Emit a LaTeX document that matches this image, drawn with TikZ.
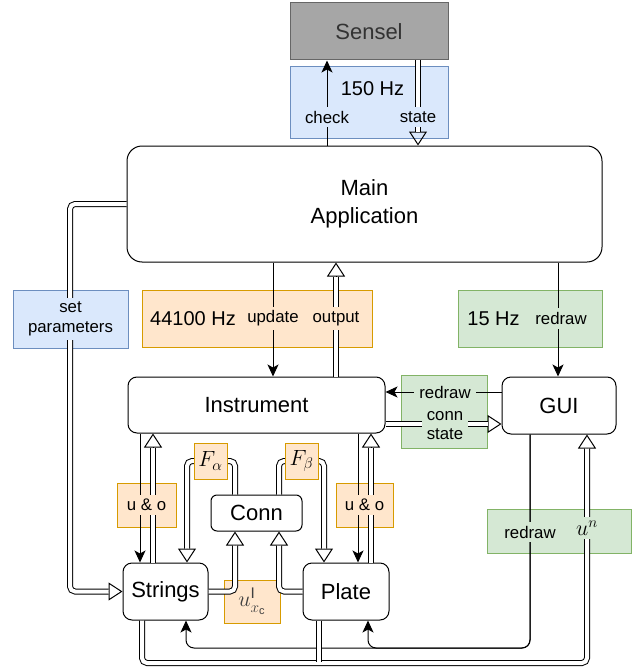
\RequirePackage{fix-cm}
\documentclass[tikz,border=0pt]{standalone}
\usepackage{fontspec}
\setmainfont{Liberation Sans}
\usetikzlibrary{arrows.meta}

\definecolor{blueF}{HTML}{DAE8FC}
\definecolor{blueS}{HTML}{6C8EBF}
\definecolor{orgF}{HTML}{FFE6CC}
\definecolor{orgS}{HTML}{D79B00}
\definecolor{grnF}{HTML}{D5E8D4}
\definecolor{grnS}{HTML}{82B366}
\definecolor{senF}{HTML}{A6A6A6}
\definecolor{senS}{HTML}{666666}
\definecolor{senT}{HTML}{333333}

\newcommand{\fsBig}{\fontsize{22}{28}\selectfont}
\newcommand{\fsHz}{\fontsize{20}{24}\selectfont}
\newcommand{\fsLab}{\fontsize{16.8}{19.5}\selectfont}
\newcommand{\fsMath}{\fontsize{22}{26}\selectfont}

\tikzset{
  wh/.style 2 args={minimum width=#1pt, minimum height=#2pt},
  blk/.style={draw, line width=1pt, rounded corners=9pt, fill=white,
              font=\fsBig, align=center, inner sep=0pt},
  panel/.style={draw=#1S, fill=#1F, line width=1pt, inner sep=0pt},
  lab/.style={fill=#1F, font=\fsLab, align=center, inner xsep=5pt, inner ysep=4pt},
  arr/.style={line width=1pt, -{Stealth[length=12pt, width=11pt, inset=3pt]}},
  dblline/.style={line width=1pt, double, double distance=4pt},
  % hollow-headed double wire: thin centre line carries the open head,
  % the double stroke is laid over it and stops at the head's base
  dbl/.style={line width=1pt, -{Triangle[open, length=14pt, width=18pt]},
              postaction={draw, -, dblline, shorten >=14pt}},
  rc/.style={rounded corners=5pt},
}

\begin{document}
\begin{tikzpicture}[x=1pt,y=-1pt]
\useasboundingbox (0,0) rectangle (638,669);

% coloured panels behind the wiring
\node[panel=blue, wh={158}{71}] (p150) at (369,102.5) {};
\node[panel=org,  wh={230}{57}] (p441) at (257,318.5) {};
\node[panel=grn,  wh={144}{57}] (p15)  at (530,318.5) {};
\node[panel=blue, wh={115}{58}] (pset) at (70.5,319) {};
\node[panel=org,  wh={59}{44}]  (puoL) at (146.5,505) {};
\node[panel=org,  wh={57}{44}]  (puoR) at (364.5,505) {};
\node[panel=grn,  wh={86}{73}]  (pgc)  at (444,411.5) {};
\node[panel=grn,  wh={144}{44}] (pgu)  at (559,531) {};
\node[panel=org,  wh={56}{43}, font=\fsMath, text=black!75] (puxc) at (252,601.5)
  {$u^{\mathrm{I}}_{x_{\mathrm{c}}}$};

\node[font=\fsHz] (t150) at (372.5,89) {150 Hz};
\node[font=\fsHz] (t441) at (193,318.5) {44100 Hz};
\node[font=\fsHz] (t15)  at (493.5,319) {15 Hz};

% components
\node[blk, fill=senF, draw=senS, text=senT, sharp corners, wh={158}{57}] (sensel) at (369,31.5) {Sensel};
\node[blk, rounded corners=15pt, wh={475}{116}] (main) at (364.5,204) {\raisebox{-2pt}{\begin{tabular}{@{}c@{}}Main\\[-0.5pt]Application\end{tabular}}};
\node[blk, wh={257}{56}] (instr)   at (256.5,405) {Instrument};
\node[blk, wh={114}{57}] (gui)     at (559,405.5) {GUI};
\node[blk, wh={85}{57}]  (strings) at (165.5,591.5) {Strings};
\node[blk, wh={86}{57}]  (plate)   at (346,591.5) {Plate};
\node[blk, rounded corners=6pt, wh={91}{36}] (conn) at (256.5,513) {Conn};

% wire positions
\coordinate (xchk) at (327,0);
\coordinate (xsta) at (418,0);
\coordinate (xupd) at (273,0);
\coordinate (xout) at (336,0);
\coordinate (xgrd) at (558,0);
\coordinate (xset) at (70,0);
\coordinate (xsi)  at (140,0);
\coordinate (xis)  at (153,0);
\coordinate (xpi)  at (358,0);
\coordinate (xip)  at (371,0);
\coordinate (xfa)  at (187,0);
\coordinate (xca)  at (235,0);
\coordinate (xcb)  at (279,0);
\coordinate (xfb)  at (324,0);
\coordinate (xrd)  at (530,0);
\coordinate (xrs)  at (186,0);
\coordinate (xrp)  at (368,0);
\coordinate (xsg)  at (142,0);
\coordinate (xpg)  at (319,0);
\coordinate (xun)  at (587,0);
\coordinate (yF)   at (0,461);
\coordinate (yrd)  at (0,392);
\coordinate (ycs)  at (0,424);
\coordinate (yr)   at (0,648);
\coordinate (yb)   at (0,663);
\coordinate (ymg)  at (0,661.5);

% connectors
\draw[arr] (xchk |- main.north) -- (xchk |- sensel.south);
\draw[dbl] (xsta |- sensel.south) -- (xsta |- main.north);
\draw[arr] (xupd |- main.south) -- (xupd |- instr.north);
\draw[dbl] (xout |- instr.north) -- (xout |- main.south);
\draw[arr] (xgrd |- main.south) -- (xgrd |- gui.north);
\draw[dbl, rc] (main.west) -- (xset |- main.west) -- (xset |- strings.west) -- (strings.west);
\draw[arr] (xsi |- instr.south) -- (xsi |- strings.north);
\draw[dbl] (xis |- strings.north) -- (xis |- instr.south);
\draw[arr] (xpi |- instr.south) -- (xpi |- plate.north);
\draw[dbl] (xip |- plate.north) -- (xip |- instr.south);
\draw[dbl, rc] (xca |- conn.north) -- (xca |- yF) -- (xfa |- yF) -- (xfa |- strings.north);
\draw[dbl, rc] (xcb |- conn.north) -- (xcb |- yF) -- (xfb |- yF) -- (xfb |- plate.north);
\draw[dbl, rc] (strings.east) -- (xca |- strings.east) -- (xca |- conn.south);
\draw[dbl, rc] (plate.west) -- (xcb |- plate.west) -- (xcb |- conn.south);
\draw[arr] (gui.west |- yrd) -- (instr.east |- yrd);
\draw[dbl] (instr.east |- ycs) -- (gui.west |- ycs);
\draw[arr, rounded corners=8pt] (xrd |- gui.south) -- (xrd |- yr) -- (xrp |- yr) -- (xrp |- plate.south);
\draw[arr, rounded corners=8pt] (xrd |- gui.south) -- (xrd |- yr) -- (xrs |- yr) -- (xrs |- strings.south);
\draw[dbl, rc] (xsg |- strings.south) -- (xsg |- yb) -- (xun |- yb) -- (xun |- gui.south);
\draw[dblline] (xpg |- plate.south) -- (xpg |- ymg);

% wire labels
\node[lab=blue] (lchk) at (327,117) {check};
\node[lab=blue] (lsta) at (418,117) {state};
\node[lab=org]  (lupd) at (273,318.5) {update};
\node[lab=org]  (lout) at (336,318.5) {output};
\node[lab=grn]  (lgrd) at (561,318.5) {redraw};
\node[lab=blue] (lset) at (70.5,319) {set\\parameters};
\node[lab=org]  (luoL) at (146.5,505) {u \& o};
\node[lab=org]  (luoR) at (364.5,505) {u \& o};
\node[lab=grn]  (lgi)  at (445,392) {redraw};
\node[lab=grn]  (lcs)  at (445,425.5) {conn\\state};
\node[lab=grn]  (lgu1) at (530,532) {redraw};
\node[lab=grn, font=\fsMath] (lgu2) at (587,528) {$u^n$};

% coupling force tags
\node[panel=org, wh={33}{36}, font=\fsMath] (fa) at (210.5,461) {$F_\alpha$};
\node[panel=org, wh={33}{36}, font=\fsMath] (fb) at (301.5,461) {$F_\beta$};
\end{tikzpicture}
\end{document}
